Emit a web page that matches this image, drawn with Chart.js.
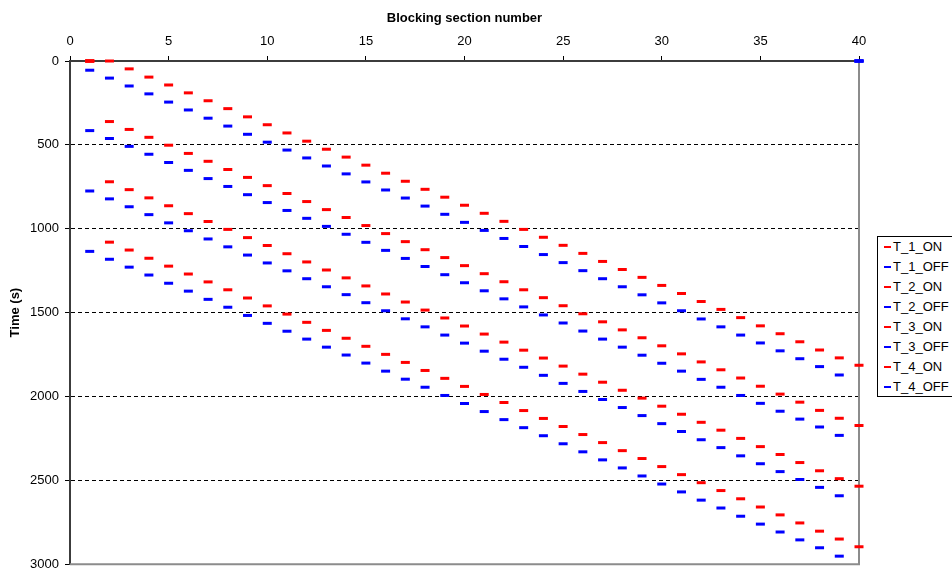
<!DOCTYPE html>
<html><head><meta charset="utf-8">
<script src="https://cdn.jsdelivr.net/npm/chart.js@4/dist/chart.umd.min.js"></script>
<style>
html,body{margin:0;padding:0;background:#fff;overflow:hidden;}
#wrap{position:relative;width:952px;height:578px;overflow:hidden;}
canvas{position:absolute;left:0;top:0;}
#legend{position:absolute;left:877px;top:236px;width:100px;height:161px;border:1px solid #000;box-sizing:border-box;background:#fff;font:13px "Liberation Sans",Arial,sans-serif;color:#000;}
.item{position:absolute;left:0;height:20px;line-height:20px;white-space:nowrap;}
.mk{position:absolute;left:6px;top:9px;width:7px;height:2px;}
.tx{position:absolute;left:15px;top:0;}
</style>
</head><body>
<div id="wrap">
<canvas id="c" width="952" height="578"></canvas>
<div id="legend"></div>
</div>
<script>
// Blocking section numbers (x categories)
const sections = [1,2,3,4,5,6,7,8,9,10,11,12,13,14,15,16,17,18,19,20,21,22,23,24,25,26,27,28,29,30,31,32,33,34,35,36,37,38,39,40];

// Times (s)
const T_1_ON  = [0,0,47,96,143,190,237,284,333,380,429,478,526,573,621,669,717,765,812,860,908,956,1004,1051,1099,1147,1195,1243,1290,1338,1386,1434,1481,1530,1579,1626,1674,1723,1770,1814];
const T_1_OFF = [55,102,149,196,245,292,341,388,437,484,531,578,626,673,721,769,817,865,914,962,1010,1058,1106,1154,1202,1250,1298,1346,1394,1442,1489,1538,1585,1634,1681,1728,1775,1822,1872,0];
const T_2_ON  = [0,361,408,455,502,551,598,647,694,743,790,838,886,933,981,1029,1077,1125,1172,1220,1268,1316,1364,1411,1459,1507,1555,1603,1650,1698,1746,1794,1841,1890,1939,1986,2034,2083,2130,2173];
const T_2_OFF = [415,462,509,556,605,652,701,748,797,844,891,938,986,1033,1081,1129,1177,1225,1274,1322,1370,1418,1466,1514,1562,1610,1658,1706,1754,1802,1849,1898,1945,1994,2041,2088,2135,2182,2232,0];
const T_3_ON  = [0,720,767,816,863,910,957,1004,1053,1100,1149,1198,1246,1293,1341,1389,1437,1485,1532,1580,1628,1676,1724,1771,1819,1867,1915,1963,2010,2058,2106,2154,2201,2250,2299,2346,2394,2443,2490,2535];
const T_3_OFF = [775,822,869,916,965,1012,1061,1108,1157,1204,1251,1298,1346,1393,1441,1489,1537,1585,1634,1682,1730,1778,1826,1874,1922,1970,2018,2066,2114,2162,2209,2258,2305,2354,2401,2448,2495,2542,2592,0];
const T_4_ON  = [0,1080,1127,1176,1223,1270,1317,1364,1413,1460,1509,1558,1606,1653,1701,1749,1797,1845,1892,1940,1988,2036,2084,2131,2179,2227,2275,2323,2370,2418,2466,2514,2561,2610,2659,2706,2754,2803,2850,2896];
const T_4_OFF = [1135,1182,1229,1276,1325,1372,1421,1468,1517,1564,1611,1658,1706,1753,1801,1849,1897,1945,1994,2042,2090,2138,2186,2234,2282,2330,2378,2426,2474,2522,2569,2618,2665,2714,2761,2808,2855,2902,2952,0];

const seriesNames = ['T_1_ON','T_1_OFF','T_2_ON','T_2_OFF','T_3_ON','T_3_OFF','T_4_ON','T_4_OFF'];
const seriesData  = [T_1_ON,T_1_OFF,T_2_ON,T_2_OFF,T_3_ON,T_3_OFF,T_4_ON,T_4_OFF];
const seriesColors = ['#FF0000','#0000FF','#FF0000','#0000FF','#FF0000','#0000FF','#FF0000','#0000FF'];

const xTicksMin = 0, xTicksMax = 40, xStep = 5;
const yTicksMin = 0, yTicksMax = 3000, yStep = 500;

const FONT = '"Liberation Sans", Arial, sans-serif';

const datasets = seriesNames.map((name, k) => ({
  label: name,
  data: sections.map((s, i) => ({x: s, y: seriesData[k][i]})),
  showLine: false,
  borderColor: seriesColors[k],
  backgroundColor: seriesColors[k],
  pointStyle: 'line',
  pointRadius: 4.5,
  pointBorderWidth: 3,
  pointHoverRadius: 4.5,
  clip: false
}));

const frame = {
  id: 'frame',
  beforeDatasetsDraw(chart) {
    const {ctx, chartArea: a} = chart;
    ctx.save();
    ctx.strokeStyle = '#8c8c8c';
    ctx.lineWidth = 2;
    ctx.beginPath();
    ctx.moveTo(a.left, a.bottom);
    ctx.lineTo(a.right, a.bottom);
    ctx.lineTo(a.right, a.top);
    ctx.stroke();
    ctx.restore();
  }
};

new Chart(document.getElementById('c'), {
  type: 'scatter',
  data: { datasets },
  plugins: [frame],
  options: {
    responsive: false,
    animation: false,
    events: [],
    layout: { padding: { left: 0, top: 0, right: 93, bottom: 7 } },
    plugins: { legend: { display: false }, tooltip: { enabled: false } },
    scales: {
      x: {
        type: 'linear', position: 'top', min: xTicksMin, max: xTicksMax,
        ticks: { stepSize: xStep, color: '#000', padding: 7, font: { family: FONT, size: 13 }, callback: (v) => String(v) },
        grid: { drawOnChartArea: false, color: '#000', tickColor: '#000', tickLength: 5, tickWidth: 1 },
        border: { color: '#3c3c3c', width: 2 },
        title: { display: true, text: 'Blocking section number', color: '#000', font: { family: FONT, size: 13, weight: 'bold' }, padding: { top: 11, bottom: 0 } },
        afterFit(s) { s.height = 61; }
      },
      y: {
        type: 'linear', reverse: true, min: yTicksMin, max: yTicksMax,
        ticks: { stepSize: yStep, color: '#000', padding: 6, font: { family: FONT, size: 13 }, callback: (v) => String(v) },
        grid: {
          color: (c) => (c.tick && (c.tick.value === yTicksMin || c.tick.value === yTicksMax)) ? 'rgba(0,0,0,0)' : '#000',
          tickColor: '#000', tickLength: 5, lineWidth: 1, tickWidth: 1
        },
        border: { color: '#3c3c3c', width: 2, dash: [4, 3] },
        title: { display: true, text: 'Time (s)', color: '#000', font: { family: FONT, size: 13, weight: 'bold' }, padding: { top: 8, bottom: 0 } },
        afterFit(s) { s.width = 70; }
      }
    }
  }
});

// legend
const lg = document.getElementById('legend');
seriesNames.forEach((name, k) => {
  const it = document.createElement('div');
  it.className = 'item';
  it.style.top = (k * 20) + 'px';
  const mk = document.createElement('div');
  mk.className = 'mk';
  mk.style.background = seriesColors[k];
  const tx = document.createElement('span');
  tx.className = 'tx';
  tx.textContent = name;
  it.appendChild(mk); it.appendChild(tx);
  lg.appendChild(it);
});
</script>
</body></html>
